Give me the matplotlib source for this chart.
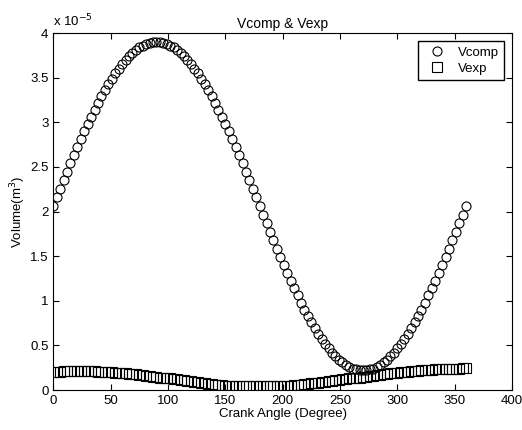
import matplotlib
matplotlib.use("Agg")

import numpy as np
import matplotlib.pyplot as plt

plt.rcParams["font.family"] = ["Liberation Sans", "DejaVu Sans"]

# crank angle in degrees, 3 degree steps
angle = np.arange(0, 361, 3)

# volumes in units of 1e-5 m^3
v_comp = [
    2.06, 2.16, 2.25, 2.35, 2.44, 2.54, 2.63, 2.72, 2.81, 2.90, 2.98,
    3.06, 3.14, 3.22, 3.29, 3.36, 3.43, 3.49, 3.55, 3.60, 3.65,
    3.70, 3.74, 3.78, 3.81, 3.84, 3.86, 3.88, 3.89, 3.90, 3.90,
    3.90, 3.89, 3.88, 3.86, 3.84, 3.81, 3.78, 3.74, 3.70, 3.65,
    3.60, 3.55, 3.49, 3.43, 3.36, 3.29, 3.22, 3.14, 3.06, 2.98,
    2.90, 2.81, 2.72, 2.63, 2.54, 2.44, 2.35, 2.25, 2.16, 2.06,
    1.96, 1.87, 1.77, 1.68, 1.58, 1.49, 1.40, 1.31, 1.22, 1.14,
    1.06, 0.98, 0.90, 0.83, 0.76, 0.69, 0.63, 0.57, 0.52, 0.47,
    0.42, 0.38, 0.34, 0.31, 0.28, 0.26, 0.24, 0.23, 0.22, 0.22,
    0.22, 0.23, 0.24, 0.26, 0.28, 0.31, 0.34, 0.38, 0.42, 0.47,
    0.52, 0.57, 0.63, 0.69, 0.76, 0.83, 0.90, 0.98, 1.06, 1.14,
    1.22, 1.31, 1.40, 1.49, 1.58, 1.68, 1.77, 1.87, 1.96, 2.06,
]

v_exp = [
    0.20, 0.20, 0.20, 0.21, 0.21, 0.21, 0.21, 0.21, 0.21, 0.21, 0.21,
    0.21, 0.21, 0.20, 0.20, 0.20, 0.20, 0.20, 0.19, 0.19, 0.19,
    0.19, 0.18, 0.18, 0.18, 0.17, 0.17, 0.16, 0.16, 0.15, 0.15,
    0.14, 0.14, 0.13, 0.13, 0.12, 0.12, 0.11, 0.11, 0.10, 0.10,
    0.09, 0.09, 0.08, 0.08, 0.07, 0.07, 0.06, 0.06, 0.06, 0.05,
    0.05, 0.05, 0.05, 0.04, 0.04, 0.04, 0.04, 0.04, 0.04, 0.04,
    0.04, 0.04, 0.04, 0.04, 0.05, 0.05, 0.05, 0.05, 0.05, 0.06,
    0.06, 0.06, 0.07, 0.07, 0.08, 0.08, 0.08, 0.09, 0.09, 0.10,
    0.10, 0.11, 0.11, 0.12, 0.12, 0.13, 0.13, 0.14, 0.14, 0.15,
    0.15, 0.16, 0.16, 0.17, 0.17, 0.18, 0.18, 0.19, 0.19, 0.19,
    0.20, 0.20, 0.20, 0.21, 0.21, 0.21, 0.22, 0.22, 0.22, 0.22,
    0.23, 0.23, 0.23, 0.23, 0.24, 0.24, 0.24, 0.24, 0.25, 0.25,
]

x_ticks = np.arange(0, 401, 50)
y_ticks = [0, 0.5, 1, 1.5, 2, 2.5, 3, 3.5, 4]
y_tick_labels = ["0", "0.5", "1", "1.5", "2", "2.5", "3", "3.5", "4"]

fig = plt.figure(figsize=(5.22, 4.30), dpi=100)
ax = fig.add_axes([0.102, 0.093, 0.879, 0.830])

ax.plot(angle, v_comp, linestyle="none", marker="o", markersize=6.5,
        markerfacecolor="none", markeredgecolor="black", markeredgewidth=0.8,
        label="Vcomp")
ax.plot(angle, v_exp, linestyle="none", marker="s", markersize=6.5,
        markerfacecolor="none", markeredgecolor="black", markeredgewidth=0.8,
        label="Vexp")

ax.set_xlim(0, 400)
ax.set_ylim(0, 4)
ax.set_xticks(x_ticks)
ax.set_yticks(y_ticks)
ax.set_yticklabels(y_tick_labels)
ax.tick_params(direction="in", top=True, right=True, labelsize=9.5, length=4)

ax.set_title("Vcomp & Vexp", fontsize=10, pad=4)
ax.set_xlabel("Crank Angle (Degree)", fontsize=9.5, labelpad=1)
ax.set_ylabel("Volume(m$^3$)", fontsize=9.5, labelpad=1)
ax.text(0.0, 1.01, "x 10$^{-5}$", transform=ax.transAxes, fontsize=9.5,
        ha="left", va="bottom")

ax.legend(loc="upper right", fontsize=9.5, frameon=True, fancybox=False,
          edgecolor="black", framealpha=1, borderpad=0.4, handletextpad=0.6,
          borderaxespad=0.6, labelspacing=0.3)

fig.savefig("out.png", dpi=100)
plt.close(fig)
